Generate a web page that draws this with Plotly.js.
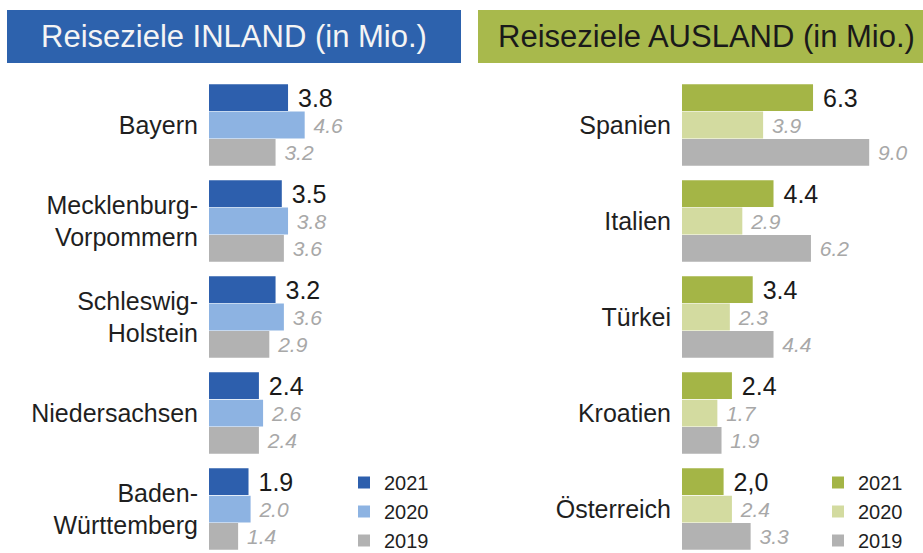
<!DOCTYPE html>
<html>
<head>
<meta charset="utf-8">
<script src="https://cdn.plot.ly/plotly-3.0.1.min.js"></script>
<style>html,body{margin:0;padding:0;background:#fff;}#chart{width:923px;height:553px;}</style>
</head>
<body>
<div id="chart"></div>
<script>
// ---- data ----
var years = ["2021", "2020", "2019"];
var inlandRegions = ["Bayern", "Mecklenburg-<br>Vorpommern", "Schleswig-<br>Holstein", "Niedersachsen", "Baden-<br>Württemberg"];
var inland2021 = [3.8, 3.5, 3.2, 2.4, 1.9];
var inland2020 = [4.6, 3.8, 3.6, 2.6, 2.0];
var inland2019 = [3.2, 3.6, 2.9, 2.4, 1.4];

var auslandCountries = ["Spanien", "Italien", "Türkei", "Kroatien", "Österreich"];
var ausland2021 = [6.3, 4.4, 3.4, 2.4, 2.0];
var ausland2020 = [3.9, 2.9, 2.3, 1.7, 2.4];
var ausland2019 = [9.0, 6.2, 4.4, 1.9, 3.3];
var ausland2021Labels = ["6.3", "4.4", "3.4", "2.4", "2,0"];

var titleInland = "Reiseziele INLAND (in Mio.)";
var titleAusland = "Reiseziele AUSLAND (in Mio.)";

// ---- styles ----
var FONT = "Liberation Sans, Arial, sans-serif";
var W = 923, H = 553;
var inlandColors = ["#2d5fad", "#8db3e2", "#b2b2b2"];
var auslandColors = ["#a4b546", "#d3dba0", "#b2b2b2"];
var NB = "\u00A0";

function fmt(arr) { return arr.map(function (v) { return NB + v.toFixed(1); }); }
function pre(arr) { return arr.map(function (s) { return NB + s; }); }

var boldFont = {family: FONT, size: 25, color: "#1a1a1a"};
var greyFont = {family: FONT, size: 21, color: "#a8a8a8", style: "italic"};

function mk(vals, cats, name, color, text, tf, xa, ya, leg) {
  return {
    type: "bar", orientation: "h", x: vals, y: cats, name: name,
    marker: {color: color}, text: text, textposition: "outside",
    textfont: tf, cliponaxis: false, constraintext: "none",
    xaxis: xa, yaxis: ya, legend: leg, hoverinfo: "x+y+name"
  };
}

var traces = [
  mk(inland2021, inlandRegions, years[0], inlandColors[0], fmt(inland2021), boldFont, "x", "y", "legend"),
  mk(inland2020, inlandRegions, years[1], inlandColors[1], fmt(inland2020), greyFont, "x", "y", "legend"),
  mk(inland2019, inlandRegions, years[2], inlandColors[2], fmt(inland2019), greyFont, "x", "y", "legend"),
  mk(ausland2021, auslandCountries, years[0], auslandColors[0], pre(ausland2021Labels), boldFont, "x2", "y2", "legend2"),
  mk(ausland2020, auslandCountries, years[1], auslandColors[1], fmt(ausland2020), greyFont, "x2", "y2", "legend2"),
  mk(ausland2019, auslandCountries, years[2], auslandColors[2], fmt(ausland2019), greyFont, "x2", "y2", "legend2")
];

var yTop = 1 - 77 / H;
var yRange = [4.458, -0.5];
var axY = {
  type: "category", range: yRange, domain: [0, yTop], showgrid: false, zeroline: false,
  showline: false, ticks: "", ticklabelstandoff: 10, automargin: false,
  tickfont: {family: FONT, size: 25, color: "#1f1f1f"}, fixedrange: true
};
var axX = {range: [0, 10], showgrid: false, zeroline: false, showline: false, showticklabels: false, ticks: "", fixedrange: true, automargin: false};

var legFont = {family: FONT, size: 20, color: "#1f1f1f"};

var layout = {
  width: W, height: H,
  margin: {l: 0, r: 0, t: 0, b: 0, pad: 0, autoexpand: false},
  paper_bgcolor: "#ffffff", plot_bgcolor: "rgba(0,0,0,0)",
  barmode: "group", bargap: 0.146, bargroupgap: 0.02,
  font: {family: FONT},
  xaxis: Object.assign({}, axX, {domain: [209 / W, 417 / W], anchor: "y"}),
  yaxis: Object.assign({}, axY, {anchor: "x"}),
  xaxis2: Object.assign({}, axX, {domain: [682 / W, 890 / W], anchor: "y2"}),
  yaxis2: Object.assign({}, axY, {anchor: "x2"}),
  legend: {x: 344 / W, y: 1 - 463 / H, xanchor: "left", yanchor: "top", bgcolor: "rgba(0,0,0,0)",
           font: legFont, tracegroupgap: 0, traceorder: "normal"},
  legend2: {x: 818 / W, y: 1 - 463 / H, xanchor: "left", yanchor: "top", bgcolor: "rgba(0,0,0,0)",
           font: legFont, tracegroupgap: 0, traceorder: "normal"},
  showlegend: true,
  shapes: [
    {type: "rect", xref: "paper", yref: "paper", x0: 7 / W, x1: 461 / W, y0: 1 - 63 / H, y1: 1 - 10 / H,
     fillcolor: "#2d62ad", line: {width: 0}, layer: "below"},
    {type: "rect", xref: "paper", yref: "paper", x0: 478 / W, x1: 1, y0: 1 - 63 / H, y1: 1 - 10 / H,
     fillcolor: "#a8b94c", line: {width: 0}, layer: "below"}
  ],
  annotations: [
    {xref: "paper", yref: "paper", x: 234 / W, y: 1 - 36.5 / H, xanchor: "center", yanchor: "middle",
     text: titleInland, showarrow: false, font: {family: FONT, size: 31, color: "#f4f4f4"}},
    {xref: "paper", yref: "paper", x: 706 / W, y: 1 - 36.5 / H, xanchor: "center", yanchor: "middle",
     text: titleAusland, showarrow: false, font: {family: FONT, size: 31, color: "#1a1a1a"}}
  ]
};

Plotly.newPlot("chart", traces, layout, {displayModeBar: false, staticPlot: true});
</script>
</body>
</html>
